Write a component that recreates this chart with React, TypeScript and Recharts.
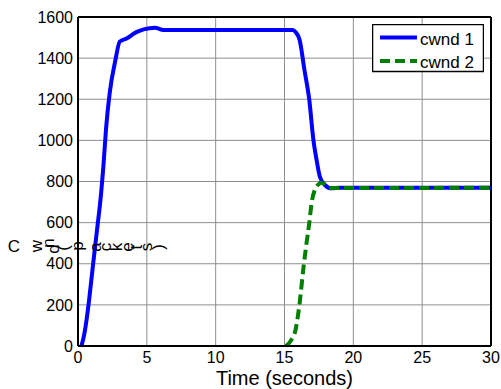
import { LineChart, Line, XAxis, YAxis, CartesianGrid, ReferenceLine, Legend } from 'recharts';

// cwnd 1: slow start from t=0.25s, plateau ~1537, then drop to the shared rate at ~16s
const time1 = [0.25, 0.45, 0.62, 0.8, 1.1, 1.4, 1.63, 1.85, 2.04, 2.3, 2.72, 3.03, 3.56, 4.17, 4.77, 5.6, 6.2, 15.6, 15.8, 16.1, 16.45, 16.8, 17.1, 17.33, 17.57, 17.93, 18.4, 19, 30];
const cwnd1 = [0, 55, 126, 220, 400, 575, 710, 880, 1059, 1229, 1391, 1480, 1497, 1524, 1540, 1548, 1537, 1537, 1527, 1488, 1342, 1197, 1002, 905, 823, 783, 767, 770, 770];

// cwnd 2: flow starts at ~15s and converges to the same window
const time2 = [15.1, 15.5, 15.8, 16.1, 16.36, 16.6, 16.8, 16.97, 17.2, 17.45, 17.7, 17.95, 18.17, 18.5, 30];
const cwnd2 = [0, 30, 78, 209, 370, 500, 598, 695, 760, 785, 794, 785, 772, 768, 770];

const xTicks = [0, 5, 10, 15, 20, 25, 30];
const yTicks = [0, 200, 400, 600, 800, 1000, 1200, 1400, 1600];

const series1 = time1.map((t, i) => ({ t, v: cwnd1[i] }));
const series2 = time2.map((t, i) => ({ t, v: cwnd2[i] }));

const series = [
    { name: 'cwnd 1', color: '#0000ff', dash: undefined as string | undefined, data: series1 },
    { name: 'cwnd 2', color: '#008000', dash: '10 5', data: series2 },
];

const FONT = '"Liberation Sans", Arial, Helvetica, sans-serif';
const tickStyle = { fill: '#000', fontSize: 16, fontFamily: FONT };

// y label glyphs, each turned sideways along one baseline
const yLabelText = 'Cwnd (packets)';
const yLabelX = [14, 36, 48, 53, 58, 63, 77, 95, 105, 116, 127, 136, 146, 158];
const yLabelDy = [0, 0, -3, 3, 0, 2, 0, 1, 1, 1, 1, 1, 1, 1];

function YLabel() {
    return (
        <g>
            {yLabelText.split('').map((ch, i) => {
                const x = yLabelX[i];
                const y = 246 + yLabelDy[i];
                const rot = i === 0 ? 0 : -90;
                return (
                    <text
                        key={i}
                        x={x}
                        y={y}
                        textAnchor="middle"
                        dominantBaseline="central"
                        transform={`rotate(${rot} ${x} ${y})`}
                        fontSize={17}
                        fontFamily={FONT}
                        fill="#000"
                    >
                        {ch}
                    </text>
                );
            })}
        </g>
    );
}

function LegendBox() {
    return (
        <svg width={112} height={49} style={{ display: 'block' }}>
            <rect x={0.5} y={0.5} width={111} height={47} fill="#fff" stroke="#000" strokeWidth={1.5} />
            {series.map((s, i) => {
                const y = 13.5 + i * 23.4;
                return (
                    <g key={s.name}>
                        <line x1={8} x2={45} y1={y} y2={y} stroke={s.color} strokeWidth={4} strokeDasharray={s.dash} />
                        <text x={48} y={y + 7.5} fontSize={17} fontFamily={FONT} fill="#000">
                            {s.name}
                        </text>
                    </g>
                );
            })}
        </svg>
    );
}

export default function App() {
    return (
        <div style={{ position: 'absolute', left: 0, top: 0, width: 501, height: 389, background: '#fff' }}>
            <LineChart width={501} height={389} margin={{ top: 17, right: 10, bottom: 0, left: 0 }}>
                <CartesianGrid stroke="#8f8f8f" strokeWidth={1} />
                <XAxis
                    type="number"
                    dataKey="t"
                    domain={[0, 30]}
                    ticks={xTicks}
                    interval={0}
                    height={43}
                    tickSize={0}
                    tickMargin={6}
                    tick={tickStyle}
                    axisLine={{ stroke: '#000', strokeWidth: 2 }}
                    label={{ value: 'Time (seconds)', position: 'insideBottom', offset: 4, fill: '#000', fontSize: 20, fontFamily: FONT }}
                />
                <YAxis
                    type="number"
                    domain={[0, 1600]}
                    ticks={yTicks}
                    interval={0}
                    width={78}
                    tickSize={0}
                    tickMargin={5}
                    tick={tickStyle}
                    axisLine={{ stroke: '#000', strokeWidth: 2 }}
                    label={<YLabel />}
                />
                <ReferenceLine y={1600} stroke="#000" strokeWidth={2} />
                <ReferenceLine x={30} stroke="#000" strokeWidth={2} />
                {series.map((s) => (
                    <Line
                        key={s.name}
                        data={s.data}
                        dataKey="v"
                        name={s.name}
                        type="monotone"
                        stroke={s.color}
                        strokeWidth={4}
                        strokeDasharray={s.dash}
                        dot={false}
                        activeDot={false}
                        isAnimationActive={false}
                    />
                ))}
                <Legend
                    layout="horizontal"
                    verticalAlign="middle"
                    align="center"
                    content={() => <LegendBox />}
                    wrapperStyle={{ left: 372, top: 24, width: 112, height: 49 }}
                />
            </LineChart>
        </div>
    );
}
